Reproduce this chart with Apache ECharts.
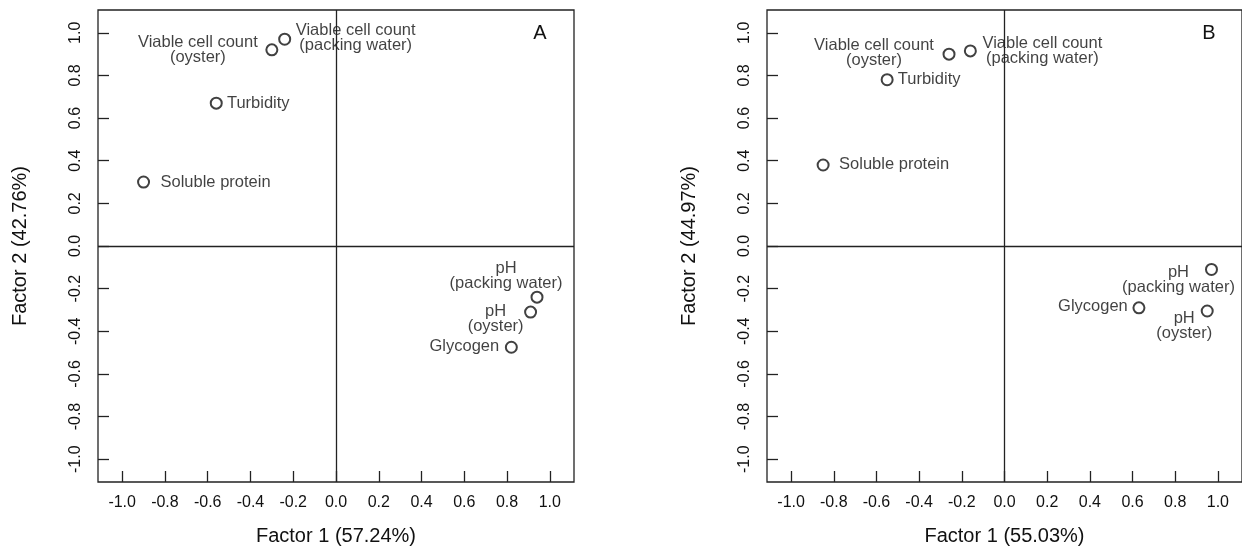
<!DOCTYPE html>
<html>
<head>
<meta charset="utf-8">
<script src="https://cdn.jsdelivr.net/npm/echarts@6/dist/echarts.min.js"></script>
<style>
  html, body { margin: 0; padding: 0; background: #fff; }
  #chart-container { width: 1242px; height: 551px; }
</style>
</head>
<body>
<div id="chart-container"></div>
<script>
var dom = document.getElementById("chart-container");
var myChart = echarts.init(dom, null, { renderer: "canvas", useDirtyRect: false });

// variables shown in both loading plots
const variables = [
  "Viable cell count\n(oyster)",
  "Viable cell count\n(packing water)",
  "Turbidity",
  "Soluble protein",
  "pH\n(packing water)",
  "pH\n(oyster)",
  "Glycogen",
];
// panel A loadings
const factor1A = [-0.30, -0.24, -0.56, -0.90, 0.94, 0.91, 0.82];
const factor2A = [0.92, 0.97, 0.67, 0.30, -0.24, -0.31, -0.475];
// panel B loadings
const factor1B = [-0.26, -0.16, -0.55, -0.85, 0.97, 0.95, 0.63];
const factor2B = [0.90, 0.915, 0.78, 0.38, -0.11, -0.305, -0.29];

const tickValues = [-1.0, -0.8, -0.6, -0.4, -0.2, 0.0, 0.2, 0.4, 0.6, 0.8, 1.0];
const xTitles = ["Factor 1 (57.24%)", "Factor 1 (55.03%)"];
const yTitles = ["Factor 2 (42.76%)", "Factor 2 (44.97%)"];
const panelLetters = ["A", "B"];

// label placement (pixel offsets from the marker centre)
const labelOffsetsA = [[-74, 0], [71, -1], [42, 0], [72, 0], [-31, -21], [-35, 7], [-47, -1]];
const labelOffsetsB = [[-75, -1], [72, 0], [42, 0], [71, -1], [-33, 11], [-23, 15], [-46, -1]];

const FONT = "Liberation Sans, Arial, sans-serif";
const INK = "#111";
const LINE = "#222";

const grids = [
  { left: 98, top: 10, width: 476, height: 475 },
  { left: 767, top: 10, width: 476, height: 475 },
];

function makeXAxis(i) {
  return {
    type: "value",
    gridIndex: i,
    min: -1.113,
    max: 1.113,
    name: xTitles[i],
    nameLocation: "middle",
    nameGap: 44,
    nameTextStyle: { fontFamily: FONT, fontSize: 20, color: INK },
    axisLine: { show: false, onZero: false },
    splitLine: { show: false },
    axisTick: {
      show: true,
      inside: true,
      length: 11,
      customValues: tickValues,
      lineStyle: { color: LINE, width: 1.3 },
    },
    axisLabel: {
      customValues: tickValues,
      margin: 13,
      fontFamily: FONT,
      fontSize: 16,
      color: INK,
      formatter: (v) => v.toFixed(1),
    },
  };
}

function makeYAxis(i) {
  return {
    type: "value",
    gridIndex: i,
    min: -1.107,
    max: 1.107,
    name: yTitles[i],
    nameLocation: "middle",
    nameGap: 68,
    nameRotate: 90,
    nameTextStyle: { fontFamily: FONT, fontSize: 20, color: INK },
    axisLine: { show: false, onZero: false },
    splitLine: { show: false },
    axisTick: {
      show: true,
      inside: true,
      length: 11,
      customValues: tickValues,
      lineStyle: { color: LINE, width: 1.3 },
    },
    axisLabel: {
      customValues: tickValues,
      rotate: 90,
      margin: 14,
      fontFamily: FONT,
      fontSize: 16,
      color: INK,
      formatter: (v) => v.toFixed(1),
    },
  };
}

function makeSeries(i, xs, ys, offsets) {
  return {
    type: "scatter",
    xAxisIndex: i,
    yAxisIndex: i,
    symbol: "emptyCircle",
    symbolSize: 11,
    itemStyle: { color: INK, borderColor: INK, borderWidth: 1.1 },
    data: xs.map((x, k) => ({
      value: [x, ys[k]],
      name: variables[k],
      label: { offset: offsets[k] },
    })),
    label: {
      show: true,
      position: "inside",
      align: "center",
      verticalAlign: "middle",
      formatter: (p) => p.name,
      fontFamily: FONT,
      fontSize: 16.5,
      lineHeight: 15,
      color: INK,
    },
    emphasis: { disabled: true },
    markLine: {
      silent: true,
      symbol: "none",
      label: { show: false },
      lineStyle: { color: LINE, width: 1.3, type: "solid" },
      data: [{ xAxis: 0 }, { yAxis: 0 }],
    },
    z: 3,
  };
}

var option = {
  backgroundColor: "#fff",
  animation: false,
  grid: grids.map((g) => ({ ...g, show: true, borderColor: LINE, borderWidth: 1.3 })),
  xAxis: [makeXAxis(0), makeXAxis(1)],
  yAxis: [makeYAxis(0), makeYAxis(1)],
  graphic: [
    { type: "text", x: 540, y: 33, style: { text: panelLetters[0], fontFamily: FONT, fontSize: 20, fill: INK, align: "center", verticalAlign: "middle" } },
    { type: "text", x: 1209, y: 33, style: { text: panelLetters[1], fontFamily: FONT, fontSize: 20, fill: INK, align: "center", verticalAlign: "middle" } },
  ],
  series: [
    makeSeries(0, factor1A, factor2A, labelOffsetsA),
    makeSeries(1, factor1B, factor2B, labelOffsetsB),
  ],
};

if (option && typeof option === "object") {
  myChart.setOption(option);
}

window.addEventListener("resize", myChart.resize);
</script>
</body>
</html>
